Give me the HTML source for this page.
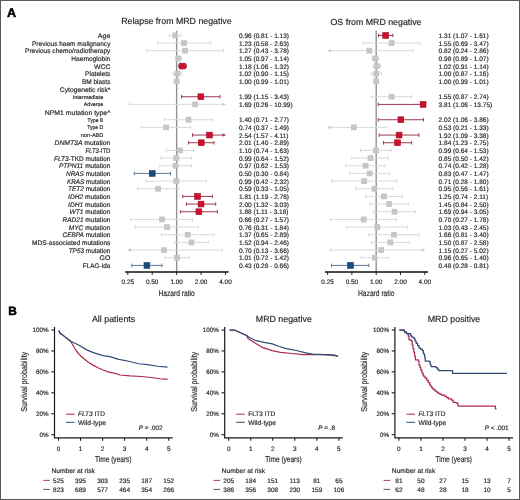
<!DOCTYPE html>
<html><head><meta charset="utf-8"><style>
html,body{margin:0;padding:0;background:#fff;}
body{width:520px;height:500px;overflow:hidden;}
text{stroke:#2a2a2a;stroke-width:0.18px;}
svg{display:block;font-family:"Liberation Sans", sans-serif;will-change:transform;text-rendering:geometricPrecision;}
</style></head><body>
<svg width="520" height="500" viewBox="0 0 520 500">
<rect x="0" y="0" width="520" height="500" fill="#fff"/>
<text x="97.8" y="38.10" font-size="6.65" fill="#2a2a2a" textLength="12.60" lengthAdjust="spacingAndGlyphs">Age</text>
<text x="32.0" y="45.77" font-size="6.65" fill="#2a2a2a" textLength="78.40" lengthAdjust="spacingAndGlyphs">Previous haem malignancy</text>
<text x="25.0" y="53.43" font-size="6.65" fill="#2a2a2a" textLength="85.40" lengthAdjust="spacingAndGlyphs">Previous chemo/radiotherapy</text>
<text x="71.3" y="61.10" font-size="6.65" fill="#2a2a2a" textLength="39.10" lengthAdjust="spacingAndGlyphs">Haemoglobin</text>
<text x="94.0" y="68.77" font-size="6.65" fill="#2a2a2a" textLength="16.40" lengthAdjust="spacingAndGlyphs">WCC</text>
<text x="85.1" y="76.44" font-size="6.65" fill="#2a2a2a" textLength="25.30" lengthAdjust="spacingAndGlyphs">Platelets</text>
<text x="81.9" y="84.10" font-size="6.65" fill="#2a2a2a" textLength="28.50" lengthAdjust="spacingAndGlyphs">BM blasts</text>
<text x="59.8" y="92.17" font-size="6.65" fill="#2a2a2a" textLength="50.60" lengthAdjust="spacingAndGlyphs">Cytogenetic risk*</text>
<text x="72.7" y="98.64" font-size="5.4" fill="#2a2a2a" textLength="30.50" lengthAdjust="spacingAndGlyphs">Intermediate</text>
<text x="83.7" y="106.30" font-size="5.4" fill="#2a2a2a" textLength="19.50" lengthAdjust="spacingAndGlyphs">Adverse</text>
<text x="44.8" y="115.17" font-size="6.65" fill="#2a2a2a" textLength="65.60" lengthAdjust="spacingAndGlyphs">NPM1 mutation type^</text>
<text x="87.6" y="121.64" font-size="5.4" fill="#2a2a2a" textLength="15.60" lengthAdjust="spacingAndGlyphs">Type B</text>
<text x="87.2" y="129.30" font-size="5.4" fill="#2a2a2a" textLength="16.00" lengthAdjust="spacingAndGlyphs">Type D</text>
<text x="81.0" y="136.97" font-size="5.4" fill="#2a2a2a" textLength="22.20" lengthAdjust="spacingAndGlyphs">non-ABD</text>
<text x="54.5" y="145.44" font-size="6.65" fill="#2a2a2a" textLength="55.90" lengthAdjust="spacingAndGlyphs"><tspan font-style="italic">DNMT3A</tspan> mutation</text>
<text x="85.5" y="153.10" font-size="6.65" fill="#2a2a2a" textLength="24.90" lengthAdjust="spacingAndGlyphs"><tspan font-style="italic">FLT3</tspan>-ITD</text>
<text x="54.0" y="160.77" font-size="6.65" fill="#2a2a2a" textLength="56.40" lengthAdjust="spacingAndGlyphs"><tspan font-style="italic">FLT3</tspan>-TKD mutation</text>
<text x="58.9" y="168.44" font-size="6.65" fill="#2a2a2a" textLength="51.50" lengthAdjust="spacingAndGlyphs"><tspan font-style="italic">PTPN11</tspan> mutation</text>
<text x="66.0" y="176.11" font-size="6.65" fill="#2a2a2a" textLength="44.40" lengthAdjust="spacingAndGlyphs"><tspan font-style="italic">NRAS</tspan> mutation</text>
<text x="66.9" y="183.77" font-size="6.65" fill="#2a2a2a" textLength="43.50" lengthAdjust="spacingAndGlyphs"><tspan font-style="italic">KRAS</tspan> mutation</text>
<text x="68.1" y="191.44" font-size="6.65" fill="#2a2a2a" textLength="42.30" lengthAdjust="spacingAndGlyphs"><tspan font-style="italic">TET2</tspan> mutation</text>
<text x="68.1" y="199.11" font-size="6.65" fill="#2a2a2a" textLength="42.30" lengthAdjust="spacingAndGlyphs"><tspan font-style="italic">IDH2</tspan> mutation</text>
<text x="68.1" y="206.77" font-size="6.65" fill="#2a2a2a" textLength="42.30" lengthAdjust="spacingAndGlyphs"><tspan font-style="italic">IDH1</tspan> mutation</text>
<text x="69.5" y="214.44" font-size="6.65" fill="#2a2a2a" textLength="40.90" lengthAdjust="spacingAndGlyphs"><tspan font-style="italic">WT1</tspan> mutation</text>
<text x="62.5" y="222.11" font-size="6.65" fill="#2a2a2a" textLength="47.90" lengthAdjust="spacingAndGlyphs"><tspan font-style="italic">RAD21</tspan> mutation</text>
<text x="68.7" y="229.77" font-size="6.65" fill="#2a2a2a" textLength="41.70" lengthAdjust="spacingAndGlyphs"><tspan font-style="italic">MYC</tspan> mutation</text>
<text x="62.5" y="237.44" font-size="6.65" fill="#2a2a2a" textLength="47.90" lengthAdjust="spacingAndGlyphs"><tspan font-style="italic">CEBPA</tspan> mutation</text>
<text x="32.0" y="245.11" font-size="6.65" fill="#2a2a2a" textLength="78.40" lengthAdjust="spacingAndGlyphs">MDS-associated mutations</text>
<text x="68.7" y="252.78" font-size="6.65" fill="#2a2a2a" textLength="41.70" lengthAdjust="spacingAndGlyphs"><tspan font-style="italic">TP53</tspan> mutation</text>
<text x="99.6" y="260.44" font-size="6.65" fill="#2a2a2a" textLength="10.80" lengthAdjust="spacingAndGlyphs">GO</text>
<text x="82.8" y="268.11" font-size="6.65" fill="#2a2a2a" textLength="27.60" lengthAdjust="spacingAndGlyphs">FLAG-Ida</text>
<line x1="176.64" y1="30.80" x2="176.64" y2="272" stroke="#929292" stroke-width="1.4"/>
<line x1="169.22" y1="35.40" x2="180.95" y2="35.40" stroke="#d9d9d9" stroke-width="1"/>
<line x1="169.22" y1="33.60" x2="169.22" y2="37.20" stroke="#d9d9d9" stroke-width="1"/>
<line x1="180.95" y1="33.60" x2="180.95" y2="37.20" stroke="#d9d9d9" stroke-width="1"/>
<rect x="172.30" y="32.50" width="5.8" height="5.8" fill="#c5c7c7"/>
<text x="239.0" y="38.00" font-size="6.52" fill="#2a2a2a">0.96 (0.81 - 1.13)</text>
<line x1="157.45" y1="43.07" x2="210.71" y2="43.07" stroke="#d9d9d9" stroke-width="1"/>
<line x1="157.45" y1="41.27" x2="157.45" y2="44.87" stroke="#d9d9d9" stroke-width="1"/>
<line x1="210.71" y1="41.27" x2="210.71" y2="44.87" stroke="#d9d9d9" stroke-width="1"/>
<rect x="181.03" y="40.17" width="5.8" height="5.8" fill="#c5c7c7"/>
<text x="239.0" y="45.67" font-size="6.52" fill="#2a2a2a">1.23 (0.58 - 2.63)</text>
<line x1="146.91" y1="50.73" x2="223.49" y2="50.73" stroke="#d9d9d9" stroke-width="1"/>
<line x1="146.91" y1="48.93" x2="146.91" y2="52.53" stroke="#d9d9d9" stroke-width="1"/>
<line x1="223.49" y1="48.93" x2="223.49" y2="52.53" stroke="#d9d9d9" stroke-width="1"/>
<rect x="182.16" y="47.83" width="5.8" height="5.8" fill="#c5c7c7"/>
<text x="239.0" y="53.33" font-size="6.52" fill="#2a2a2a">1.27 (0.43 - 3.78)</text>
<line x1="175.57" y1="58.40" x2="181.26" y2="58.40" stroke="#d9d9d9" stroke-width="1"/>
<line x1="175.57" y1="56.60" x2="175.57" y2="60.20" stroke="#d9d9d9" stroke-width="1"/>
<line x1="181.26" y1="56.60" x2="181.26" y2="60.20" stroke="#d9d9d9" stroke-width="1"/>
<rect x="175.46" y="55.50" width="5.8" height="5.8" fill="#c5c7c7"/>
<text x="239.0" y="61.00" font-size="6.52" fill="#2a2a2a">1.05 (0.97 - 1.14)</text>
<line x1="178.69" y1="66.07" x2="186.42" y2="66.07" stroke="#9c3a52" stroke-width="1"/>
<line x1="178.69" y1="64.27" x2="178.69" y2="67.87" stroke="#9c3a52" stroke-width="1"/>
<line x1="186.42" y1="64.27" x2="186.42" y2="67.87" stroke="#9c3a52" stroke-width="1"/>
<rect x="179.57" y="63.17" width="5.8" height="5.8" fill="#cc0f2f" stroke="#a00a25" stroke-width="0.6"/>
<text x="239.0" y="68.67" font-size="6.52" fill="#2a2a2a">1.18 (1.06 - 1.32)</text>
<line x1="172.93" y1="73.73" x2="181.56" y2="73.73" stroke="#d9d9d9" stroke-width="1"/>
<line x1="172.93" y1="71.94" x2="172.93" y2="75.53" stroke="#d9d9d9" stroke-width="1"/>
<line x1="181.56" y1="71.94" x2="181.56" y2="75.53" stroke="#d9d9d9" stroke-width="1"/>
<rect x="174.44" y="70.83" width="5.8" height="5.8" fill="#c5c7c7"/>
<text x="239.0" y="76.33" font-size="6.52" fill="#2a2a2a">1.02 (0.90 - 1.15)</text>
<line x1="176.29" y1="81.40" x2="176.99" y2="81.40" stroke="#d9d9d9" stroke-width="1"/>
<line x1="176.29" y1="79.60" x2="176.29" y2="83.20" stroke="#d9d9d9" stroke-width="1"/>
<line x1="176.99" y1="79.60" x2="176.99" y2="83.20" stroke="#d9d9d9" stroke-width="1"/>
<rect x="173.74" y="78.50" width="5.8" height="5.8" fill="#c5c7c7"/>
<text x="239.0" y="84.00" font-size="6.52" fill="#2a2a2a">1.00 (0.99 - 1.01)</text>
<line x1="181.56" y1="96.74" x2="220.06" y2="96.74" stroke="#9c3a52" stroke-width="1"/>
<line x1="181.56" y1="94.94" x2="181.56" y2="98.54" stroke="#9c3a52" stroke-width="1"/>
<line x1="220.06" y1="94.94" x2="220.06" y2="98.54" stroke="#9c3a52" stroke-width="1"/>
<rect x="197.98" y="93.84" width="5.8" height="5.8" fill="#cc0f2f" stroke="#a00a25" stroke-width="0.6"/>
<text x="239.0" y="99.34" font-size="6.52" fill="#2a2a2a">1.99 (1.15 - 3.43)</text>
<line x1="129.18" y1="104.40" x2="225.48" y2="104.40" stroke="#d9d9d9" stroke-width="1"/>
<line x1="129.18" y1="102.60" x2="129.18" y2="106.20" stroke="#d9d9d9" stroke-width="1"/>
<path d="M225.48,104.40 l-3,-1.8 v3.6 z" fill="#c5c7c7"/>
<rect x="192.23" y="101.50" width="5.8" height="5.8" fill="#c5c7c7"/>
<text x="239.0" y="107.00" font-size="6.52" fill="#2a2a2a">1.69 (0.26 - 10.99)</text>
<line x1="164.57" y1="119.74" x2="212.53" y2="119.74" stroke="#d9d9d9" stroke-width="1"/>
<line x1="164.57" y1="117.94" x2="164.57" y2="121.54" stroke="#d9d9d9" stroke-width="1"/>
<line x1="212.53" y1="117.94" x2="212.53" y2="121.54" stroke="#d9d9d9" stroke-width="1"/>
<rect x="185.59" y="116.84" width="5.8" height="5.8" fill="#c5c7c7"/>
<text x="239.0" y="122.34" font-size="6.52" fill="#2a2a2a">1.40 (0.71 - 2.77)</text>
<line x1="141.61" y1="127.40" x2="190.69" y2="127.40" stroke="#d9d9d9" stroke-width="1"/>
<line x1="141.61" y1="125.60" x2="141.61" y2="129.20" stroke="#d9d9d9" stroke-width="1"/>
<line x1="190.69" y1="125.60" x2="190.69" y2="129.20" stroke="#d9d9d9" stroke-width="1"/>
<rect x="163.13" y="124.50" width="5.8" height="5.8" fill="#c5c7c7"/>
<text x="239.0" y="130.00" font-size="6.52" fill="#2a2a2a">0.74 (0.37 - 1.49)</text>
<line x1="192.53" y1="135.07" x2="225.48" y2="135.07" stroke="#9c3a52" stroke-width="1"/>
<line x1="192.53" y1="133.27" x2="192.53" y2="136.87" stroke="#9c3a52" stroke-width="1"/>
<path d="M225.48,135.07 l-3,-1.8 v3.6 z" fill="#9c3a52"/>
<rect x="206.58" y="132.17" width="5.8" height="5.8" fill="#cc0f2f" stroke="#a00a25" stroke-width="0.6"/>
<text x="239.0" y="137.67" font-size="6.52" fill="#2a2a2a">2.54 (1.57 - 4.11)</text>
<line x1="188.49" y1="142.74" x2="214.03" y2="142.74" stroke="#9c3a52" stroke-width="1"/>
<line x1="188.49" y1="140.94" x2="188.49" y2="144.54" stroke="#9c3a52" stroke-width="1"/>
<line x1="214.03" y1="140.94" x2="214.03" y2="144.54" stroke="#9c3a52" stroke-width="1"/>
<rect x="198.34" y="139.84" width="5.8" height="5.8" fill="#cc0f2f" stroke="#a00a25" stroke-width="0.6"/>
<text x="239.0" y="145.34" font-size="6.52" fill="#2a2a2a">2.01 (1.40 - 2.89)</text>
<line x1="166.03" y1="150.41" x2="193.85" y2="150.41" stroke="#d9d9d9" stroke-width="1"/>
<line x1="166.03" y1="148.60" x2="166.03" y2="152.21" stroke="#d9d9d9" stroke-width="1"/>
<line x1="193.85" y1="148.60" x2="193.85" y2="152.21" stroke="#d9d9d9" stroke-width="1"/>
<rect x="177.10" y="147.50" width="5.8" height="5.8" fill="#c5c7c7"/>
<text x="239.0" y="153.00" font-size="6.52" fill="#2a2a2a">1.10 (0.74 - 1.63)</text>
<line x1="160.92" y1="158.07" x2="191.39" y2="158.07" stroke="#d9d9d9" stroke-width="1"/>
<line x1="160.92" y1="156.27" x2="160.92" y2="159.87" stroke="#d9d9d9" stroke-width="1"/>
<line x1="191.39" y1="156.27" x2="191.39" y2="159.87" stroke="#d9d9d9" stroke-width="1"/>
<rect x="173.39" y="155.17" width="5.8" height="5.8" fill="#c5c7c7"/>
<text x="239.0" y="160.67" font-size="6.52" fill="#2a2a2a">0.99 (0.64 - 1.52)</text>
<line x1="159.80" y1="165.74" x2="191.62" y2="165.74" stroke="#d9d9d9" stroke-width="1"/>
<line x1="159.80" y1="163.94" x2="159.80" y2="167.54" stroke="#d9d9d9" stroke-width="1"/>
<line x1="191.62" y1="163.94" x2="191.62" y2="167.54" stroke="#d9d9d9" stroke-width="1"/>
<rect x="172.67" y="162.84" width="5.8" height="5.8" fill="#c5c7c7"/>
<text x="239.0" y="168.34" font-size="6.52" fill="#2a2a2a">0.97 (0.62 - 1.53)</text>
<line x1="134.22" y1="173.41" x2="170.50" y2="173.41" stroke="#5a7898" stroke-width="1"/>
<line x1="134.22" y1="171.61" x2="134.22" y2="175.21" stroke="#5a7898" stroke-width="1"/>
<line x1="170.50" y1="171.61" x2="170.50" y2="175.21" stroke="#5a7898" stroke-width="1"/>
<rect x="149.32" y="170.51" width="5.8" height="5.8" fill="#1b4a7e" stroke="#143a66" stroke-width="0.6"/>
<text x="239.0" y="176.01" font-size="6.52" fill="#2a2a2a">0.50 (0.30 - 0.84)</text>
<line x1="146.08" y1="181.07" x2="206.29" y2="181.07" stroke="#d9d9d9" stroke-width="1"/>
<line x1="146.08" y1="179.27" x2="146.08" y2="182.87" stroke="#d9d9d9" stroke-width="1"/>
<line x1="206.29" y1="179.27" x2="206.29" y2="182.87" stroke="#d9d9d9" stroke-width="1"/>
<rect x="173.39" y="178.17" width="5.8" height="5.8" fill="#c5c7c7"/>
<text x="239.0" y="183.67" font-size="6.52" fill="#2a2a2a">0.99 (0.42 - 2.32)</text>
<line x1="137.58" y1="188.74" x2="178.36" y2="188.74" stroke="#d9d9d9" stroke-width="1"/>
<line x1="137.58" y1="186.94" x2="137.58" y2="190.54" stroke="#d9d9d9" stroke-width="1"/>
<line x1="178.36" y1="186.94" x2="178.36" y2="190.54" stroke="#d9d9d9" stroke-width="1"/>
<rect x="155.15" y="185.84" width="5.8" height="5.8" fill="#c5c7c7"/>
<text x="239.0" y="191.34" font-size="6.52" fill="#2a2a2a">0.59 (0.33 - 1.05)</text>
<line x1="182.77" y1="196.41" x2="212.41" y2="196.41" stroke="#9c3a52" stroke-width="1"/>
<line x1="182.77" y1="194.61" x2="182.77" y2="198.21" stroke="#9c3a52" stroke-width="1"/>
<line x1="212.41" y1="194.61" x2="212.41" y2="198.21" stroke="#9c3a52" stroke-width="1"/>
<rect x="194.64" y="193.51" width="5.8" height="5.8" fill="#cc0f2f" stroke="#a00a25" stroke-width="0.6"/>
<text x="239.0" y="199.01" font-size="6.52" fill="#2a2a2a">1.81 (1.19 - 2.76)</text>
<line x1="186.42" y1="204.07" x2="215.70" y2="204.07" stroke="#9c3a52" stroke-width="1"/>
<line x1="186.42" y1="202.27" x2="186.42" y2="205.87" stroke="#9c3a52" stroke-width="1"/>
<line x1="215.70" y1="202.27" x2="215.70" y2="205.87" stroke="#9c3a52" stroke-width="1"/>
<rect x="198.16" y="201.17" width="5.8" height="5.8" fill="#cc0f2f" stroke="#a00a25" stroke-width="0.6"/>
<text x="239.0" y="206.67" font-size="6.52" fill="#2a2a2a">2.00 (1.32 - 3.03)</text>
<line x1="180.32" y1="211.74" x2="217.40" y2="211.74" stroke="#9c3a52" stroke-width="1"/>
<line x1="180.32" y1="209.94" x2="180.32" y2="213.54" stroke="#9c3a52" stroke-width="1"/>
<line x1="217.40" y1="209.94" x2="217.40" y2="213.54" stroke="#9c3a52" stroke-width="1"/>
<rect x="195.98" y="208.84" width="5.8" height="5.8" fill="#cc0f2f" stroke="#a00a25" stroke-width="0.6"/>
<text x="239.0" y="214.34" font-size="6.52" fill="#2a2a2a">1.88 (1.11 - 3.18)</text>
<line x1="130.51" y1="219.41" x2="192.53" y2="219.41" stroke="#d9d9d9" stroke-width="1"/>
<line x1="130.51" y1="217.61" x2="130.51" y2="221.21" stroke="#d9d9d9" stroke-width="1"/>
<line x1="192.53" y1="217.61" x2="192.53" y2="221.21" stroke="#d9d9d9" stroke-width="1"/>
<rect x="159.10" y="216.51" width="5.8" height="5.8" fill="#c5c7c7"/>
<text x="239.0" y="222.01" font-size="6.52" fill="#2a2a2a">0.66 (0.27 - 1.57)</text>
<line x1="135.38" y1="227.07" x2="198.12" y2="227.07" stroke="#d9d9d9" stroke-width="1"/>
<line x1="135.38" y1="225.27" x2="135.38" y2="228.88" stroke="#d9d9d9" stroke-width="1"/>
<line x1="198.12" y1="225.27" x2="198.12" y2="228.88" stroke="#d9d9d9" stroke-width="1"/>
<rect x="164.07" y="224.17" width="5.8" height="5.8" fill="#c5c7c7"/>
<text x="239.0" y="229.67" font-size="6.52" fill="#2a2a2a">0.76 (0.31 - 1.84)</text>
<line x1="161.46" y1="234.74" x2="214.03" y2="234.74" stroke="#d9d9d9" stroke-width="1"/>
<line x1="161.46" y1="232.94" x2="161.46" y2="236.54" stroke="#d9d9d9" stroke-width="1"/>
<line x1="214.03" y1="232.94" x2="214.03" y2="236.54" stroke="#d9d9d9" stroke-width="1"/>
<rect x="184.83" y="231.84" width="5.8" height="5.8" fill="#c5c7c7"/>
<text x="239.0" y="237.34" font-size="6.52" fill="#2a2a2a">1.37 (0.65 - 2.89)</text>
<line x1="174.46" y1="242.41" x2="208.35" y2="242.41" stroke="#d9d9d9" stroke-width="1"/>
<line x1="174.46" y1="240.61" x2="174.46" y2="244.21" stroke="#d9d9d9" stroke-width="1"/>
<line x1="208.35" y1="240.61" x2="208.35" y2="244.21" stroke="#d9d9d9" stroke-width="1"/>
<rect x="188.49" y="239.51" width="5.8" height="5.8" fill="#c5c7c7"/>
<text x="239.0" y="245.01" font-size="6.52" fill="#2a2a2a">1.52 (0.94 - 2.46)</text>
<line x1="127.80" y1="250.08" x2="222.35" y2="250.08" stroke="#d9d9d9" stroke-width="1"/>
<path d="M127.80,250.08 l3,-1.8 v3.6 z" fill="#c5c7c7"/>
<line x1="222.35" y1="248.28" x2="222.35" y2="251.88" stroke="#d9d9d9" stroke-width="1"/>
<rect x="161.17" y="247.18" width="5.8" height="5.8" fill="#c5c7c7"/>
<text x="239.0" y="252.68" font-size="6.52" fill="#2a2a2a">0.70 (0.13 - 3.66)</text>
<line x1="165.07" y1="257.74" x2="188.99" y2="257.74" stroke="#d9d9d9" stroke-width="1"/>
<line x1="165.07" y1="255.94" x2="165.07" y2="259.54" stroke="#d9d9d9" stroke-width="1"/>
<line x1="188.99" y1="255.94" x2="188.99" y2="259.54" stroke="#d9d9d9" stroke-width="1"/>
<rect x="174.09" y="254.84" width="5.8" height="5.8" fill="#c5c7c7"/>
<text x="239.0" y="260.34" font-size="6.52" fill="#2a2a2a">1.01 (0.72 - 1.42)</text>
<line x1="131.79" y1="265.41" x2="162.00" y2="265.41" stroke="#5a7898" stroke-width="1"/>
<line x1="131.79" y1="263.61" x2="131.79" y2="267.21" stroke="#5a7898" stroke-width="1"/>
<line x1="162.00" y1="263.61" x2="162.00" y2="267.21" stroke="#5a7898" stroke-width="1"/>
<rect x="144.01" y="262.51" width="5.8" height="5.8" fill="#1b4a7e" stroke="#143a66" stroke-width="0.6"/>
<text x="239.0" y="268.01" font-size="6.52" fill="#2a2a2a">0.43 (0.28 - 0.66)</text>
<line x1="125.20" y1="272" x2="228.68" y2="272" stroke="#111" stroke-width="1.3"/>
<line x1="127.80" y1="272" x2="127.80" y2="275" stroke="#111" stroke-width="0.9"/>
<text x="127.80" y="283.9" font-size="6.4" text-anchor="middle" fill="#2a2a2a">0.25</text>
<line x1="152.22" y1="272" x2="152.22" y2="275" stroke="#111" stroke-width="0.9"/>
<text x="152.22" y="283.9" font-size="6.4" text-anchor="middle" fill="#2a2a2a">0.50</text>
<line x1="176.64" y1="272" x2="176.64" y2="275" stroke="#111" stroke-width="0.9"/>
<text x="176.64" y="283.9" font-size="6.4" text-anchor="middle" fill="#2a2a2a">1.00</text>
<line x1="201.06" y1="272" x2="201.06" y2="275" stroke="#111" stroke-width="0.9"/>
<text x="201.06" y="283.9" font-size="6.4" text-anchor="middle" fill="#2a2a2a">2.00</text>
<line x1="225.48" y1="272" x2="225.48" y2="275" stroke="#111" stroke-width="0.9"/>
<text x="225.48" y="283.9" font-size="6.4" text-anchor="middle" fill="#2a2a2a">4.00</text>
<text x="176.64" y="295.8" font-size="8.2" text-anchor="middle" fill="#2a2a2a" textLength="36.3" lengthAdjust="spacingAndGlyphs">Hazard ratio</text>
<line x1="376.20" y1="30.80" x2="376.20" y2="272" stroke="#929292" stroke-width="1.4"/>
<line x1="378.57" y1="35.40" x2="392.90" y2="35.40" stroke="#9c3a52" stroke-width="1"/>
<line x1="378.57" y1="33.60" x2="378.57" y2="37.20" stroke="#9c3a52" stroke-width="1"/>
<line x1="392.90" y1="33.60" x2="392.90" y2="37.20" stroke="#9c3a52" stroke-width="1"/>
<rect x="382.77" y="32.50" width="5.8" height="5.8" fill="#cc0f2f" stroke="#a00a25" stroke-width="0.6"/>
<text x="438.6" y="38.00" font-size="6.52" fill="#2a2a2a">1.31 (1.07 - 1.61)</text>
<line x1="363.19" y1="43.07" x2="419.82" y2="43.07" stroke="#d9d9d9" stroke-width="1"/>
<line x1="363.19" y1="41.27" x2="363.19" y2="44.87" stroke="#d9d9d9" stroke-width="1"/>
<line x1="419.82" y1="41.27" x2="419.82" y2="44.87" stroke="#d9d9d9" stroke-width="1"/>
<rect x="388.66" y="40.17" width="5.8" height="5.8" fill="#c5c7c7"/>
<text x="438.6" y="45.67" font-size="6.52" fill="#2a2a2a">1.55 (0.69 - 3.47)</text>
<line x1="327.60" y1="50.73" x2="413.04" y2="50.73" stroke="#d9d9d9" stroke-width="1"/>
<path d="M327.60,50.73 l3,-1.8 v3.6 z" fill="#c5c7c7"/>
<line x1="413.04" y1="48.93" x2="413.04" y2="52.53" stroke="#d9d9d9" stroke-width="1"/>
<rect x="366.34" y="47.83" width="5.8" height="5.8" fill="#c5c7c7"/>
<text x="438.6" y="53.33" font-size="6.52" fill="#2a2a2a">0.82 (0.24 - 2.86)</text>
<line x1="372.11" y1="58.40" x2="378.57" y2="58.40" stroke="#d9d9d9" stroke-width="1"/>
<line x1="372.11" y1="56.60" x2="372.11" y2="60.20" stroke="#d9d9d9" stroke-width="1"/>
<line x1="378.57" y1="56.60" x2="378.57" y2="60.20" stroke="#d9d9d9" stroke-width="1"/>
<rect x="372.59" y="55.50" width="5.8" height="5.8" fill="#c5c7c7"/>
<text x="438.6" y="61.00" font-size="6.52" fill="#2a2a2a">0.98 (0.89 - 1.07)</text>
<line x1="372.89" y1="66.07" x2="380.79" y2="66.07" stroke="#d9d9d9" stroke-width="1"/>
<line x1="372.89" y1="64.27" x2="372.89" y2="67.87" stroke="#d9d9d9" stroke-width="1"/>
<line x1="380.79" y1="64.27" x2="380.79" y2="67.87" stroke="#d9d9d9" stroke-width="1"/>
<rect x="373.99" y="63.17" width="5.8" height="5.8" fill="#c5c7c7"/>
<text x="438.6" y="68.67" font-size="6.52" fill="#2a2a2a">1.02 (0.91 - 1.14)</text>
<line x1="371.32" y1="73.73" x2="381.40" y2="73.73" stroke="#d9d9d9" stroke-width="1"/>
<line x1="371.32" y1="71.94" x2="371.32" y2="75.53" stroke="#d9d9d9" stroke-width="1"/>
<line x1="381.40" y1="71.94" x2="381.40" y2="75.53" stroke="#d9d9d9" stroke-width="1"/>
<rect x="373.30" y="70.83" width="5.8" height="5.8" fill="#c5c7c7"/>
<text x="438.6" y="76.33" font-size="6.52" fill="#2a2a2a">1.00 (0.87 - 1.16)</text>
<line x1="375.85" y1="81.40" x2="376.55" y2="81.40" stroke="#d9d9d9" stroke-width="1"/>
<line x1="375.85" y1="79.60" x2="375.85" y2="83.20" stroke="#d9d9d9" stroke-width="1"/>
<line x1="376.55" y1="79.60" x2="376.55" y2="83.20" stroke="#d9d9d9" stroke-width="1"/>
<rect x="373.30" y="78.50" width="5.8" height="5.8" fill="#c5c7c7"/>
<text x="438.6" y="84.00" font-size="6.52" fill="#2a2a2a">1.00 (0.99 - 1.01)</text>
<line x1="371.32" y1="96.74" x2="411.54" y2="96.74" stroke="#d9d9d9" stroke-width="1"/>
<line x1="371.32" y1="94.94" x2="371.32" y2="98.54" stroke="#d9d9d9" stroke-width="1"/>
<line x1="411.54" y1="94.94" x2="411.54" y2="98.54" stroke="#d9d9d9" stroke-width="1"/>
<rect x="388.66" y="93.84" width="5.8" height="5.8" fill="#c5c7c7"/>
<text x="438.6" y="99.34" font-size="6.52" fill="#2a2a2a">1.55 (0.87 - 2.74)</text>
<line x1="378.24" y1="104.40" x2="424.80" y2="104.40" stroke="#9c3a52" stroke-width="1"/>
<line x1="378.24" y1="102.60" x2="378.24" y2="106.20" stroke="#9c3a52" stroke-width="1"/>
<path d="M424.80,104.40 l-3,-1.8 v3.6 z" fill="#9c3a52"/>
<rect x="420.19" y="101.50" width="5.8" height="5.8" fill="#cc0f2f" stroke="#a00a25" stroke-width="0.6"/>
<text x="438.6" y="107.00" font-size="6.52" fill="#2a2a2a">3.81 (1.06 - 13.75)</text>
<line x1="378.24" y1="119.74" x2="423.55" y2="119.74" stroke="#9c3a52" stroke-width="1"/>
<line x1="378.24" y1="117.94" x2="378.24" y2="121.54" stroke="#9c3a52" stroke-width="1"/>
<line x1="423.55" y1="117.94" x2="423.55" y2="121.54" stroke="#9c3a52" stroke-width="1"/>
<rect x="397.95" y="116.84" width="5.8" height="5.8" fill="#cc0f2f" stroke="#a00a25" stroke-width="0.6"/>
<text x="438.6" y="122.34" font-size="6.52" fill="#2a2a2a">2.02 (1.06 - 3.86)</text>
<line x1="327.60" y1="127.40" x2="386.20" y2="127.40" stroke="#d9d9d9" stroke-width="1"/>
<path d="M327.60,127.40 l3,-1.8 v3.6 z" fill="#c5c7c7"/>
<line x1="386.20" y1="125.60" x2="386.20" y2="129.20" stroke="#d9d9d9" stroke-width="1"/>
<rect x="351.04" y="124.50" width="5.8" height="5.8" fill="#c5c7c7"/>
<text x="438.6" y="130.00" font-size="6.52" fill="#2a2a2a">0.53 (0.21 - 1.33)</text>
<line x1="379.22" y1="135.07" x2="418.90" y2="135.07" stroke="#9c3a52" stroke-width="1"/>
<line x1="379.22" y1="133.27" x2="379.22" y2="136.87" stroke="#9c3a52" stroke-width="1"/>
<line x1="418.90" y1="133.27" x2="418.90" y2="136.87" stroke="#9c3a52" stroke-width="1"/>
<rect x="396.17" y="132.17" width="5.8" height="5.8" fill="#cc0f2f" stroke="#a00a25" stroke-width="0.6"/>
<text x="438.6" y="137.67" font-size="6.52" fill="#2a2a2a">1.92 (1.09 - 3.38)</text>
<line x1="383.46" y1="142.74" x2="411.66" y2="142.74" stroke="#9c3a52" stroke-width="1"/>
<line x1="383.46" y1="140.94" x2="383.46" y2="144.54" stroke="#9c3a52" stroke-width="1"/>
<line x1="411.66" y1="140.94" x2="411.66" y2="144.54" stroke="#9c3a52" stroke-width="1"/>
<rect x="394.68" y="139.84" width="5.8" height="5.8" fill="#cc0f2f" stroke="#a00a25" stroke-width="0.6"/>
<text x="438.6" y="145.34" font-size="6.52" fill="#2a2a2a">1.84 (1.23 - 2.75)</text>
<line x1="360.55" y1="150.41" x2="391.11" y2="150.41" stroke="#d9d9d9" stroke-width="1"/>
<line x1="360.55" y1="148.60" x2="360.55" y2="152.21" stroke="#d9d9d9" stroke-width="1"/>
<line x1="391.11" y1="148.60" x2="391.11" y2="152.21" stroke="#d9d9d9" stroke-width="1"/>
<rect x="372.95" y="147.50" width="5.8" height="5.8" fill="#c5c7c7"/>
<text x="438.6" y="153.00" font-size="6.52" fill="#2a2a2a">0.99 (0.64 - 1.53)</text>
<line x1="351.90" y1="158.07" x2="388.49" y2="158.07" stroke="#d9d9d9" stroke-width="1"/>
<line x1="351.90" y1="156.27" x2="351.90" y2="159.87" stroke="#d9d9d9" stroke-width="1"/>
<line x1="388.49" y1="156.27" x2="388.49" y2="159.87" stroke="#d9d9d9" stroke-width="1"/>
<rect x="367.60" y="155.17" width="5.8" height="5.8" fill="#c5c7c7"/>
<text x="438.6" y="160.67" font-size="6.52" fill="#2a2a2a">0.85 (0.50 - 1.42)</text>
<line x1="345.79" y1="165.74" x2="384.85" y2="165.74" stroke="#d9d9d9" stroke-width="1"/>
<line x1="345.79" y1="163.94" x2="345.79" y2="167.54" stroke="#d9d9d9" stroke-width="1"/>
<line x1="384.85" y1="163.94" x2="384.85" y2="167.54" stroke="#d9d9d9" stroke-width="1"/>
<rect x="362.74" y="162.84" width="5.8" height="5.8" fill="#c5c7c7"/>
<text x="438.6" y="168.34" font-size="6.52" fill="#2a2a2a">0.74 (0.42 - 1.28)</text>
<line x1="349.73" y1="173.41" x2="389.71" y2="173.41" stroke="#d9d9d9" stroke-width="1"/>
<line x1="349.73" y1="171.61" x2="349.73" y2="175.21" stroke="#d9d9d9" stroke-width="1"/>
<line x1="389.71" y1="171.61" x2="389.71" y2="175.21" stroke="#d9d9d9" stroke-width="1"/>
<rect x="366.77" y="170.51" width="5.8" height="5.8" fill="#c5c7c7"/>
<text x="438.6" y="176.01" font-size="6.52" fill="#2a2a2a">0.83 (0.47 - 1.47)</text>
<line x1="331.57" y1="181.07" x2="396.81" y2="181.07" stroke="#d9d9d9" stroke-width="1"/>
<line x1="331.57" y1="179.27" x2="331.57" y2="182.87" stroke="#d9d9d9" stroke-width="1"/>
<line x1="396.81" y1="179.27" x2="396.81" y2="182.87" stroke="#d9d9d9" stroke-width="1"/>
<rect x="361.29" y="178.17" width="5.8" height="5.8" fill="#c5c7c7"/>
<text x="438.6" y="183.67" font-size="6.52" fill="#2a2a2a">0.71 (0.28 - 1.80)</text>
<line x1="355.87" y1="188.74" x2="392.90" y2="188.74" stroke="#d9d9d9" stroke-width="1"/>
<line x1="355.87" y1="186.94" x2="355.87" y2="190.54" stroke="#d9d9d9" stroke-width="1"/>
<line x1="392.90" y1="186.94" x2="392.90" y2="190.54" stroke="#d9d9d9" stroke-width="1"/>
<rect x="371.50" y="185.84" width="5.8" height="5.8" fill="#c5c7c7"/>
<text x="438.6" y="191.34" font-size="6.52" fill="#2a2a2a">0.95 (0.56 - 1.61)</text>
<line x1="365.64" y1="196.41" x2="402.38" y2="196.41" stroke="#d9d9d9" stroke-width="1"/>
<line x1="365.64" y1="194.61" x2="365.64" y2="198.21" stroke="#d9d9d9" stroke-width="1"/>
<line x1="402.38" y1="194.61" x2="402.38" y2="198.21" stroke="#d9d9d9" stroke-width="1"/>
<rect x="381.12" y="193.51" width="5.8" height="5.8" fill="#c5c7c7"/>
<text x="438.6" y="199.01" font-size="6.52" fill="#2a2a2a">1.25 (0.74 - 2.11)</text>
<line x1="370.09" y1="204.07" x2="408.32" y2="204.07" stroke="#d9d9d9" stroke-width="1"/>
<line x1="370.09" y1="202.27" x2="370.09" y2="205.87" stroke="#d9d9d9" stroke-width="1"/>
<line x1="408.32" y1="202.27" x2="408.32" y2="205.87" stroke="#d9d9d9" stroke-width="1"/>
<rect x="386.33" y="201.17" width="5.8" height="5.8" fill="#c5c7c7"/>
<text x="438.6" y="206.67" font-size="6.52" fill="#2a2a2a">1.45 (0.84 - 2.50)</text>
<line x1="374.03" y1="211.74" x2="415.29" y2="211.74" stroke="#d9d9d9" stroke-width="1"/>
<line x1="374.03" y1="209.94" x2="374.03" y2="213.54" stroke="#d9d9d9" stroke-width="1"/>
<line x1="415.29" y1="209.94" x2="415.29" y2="213.54" stroke="#d9d9d9" stroke-width="1"/>
<rect x="391.70" y="208.84" width="5.8" height="5.8" fill="#c5c7c7"/>
<text x="438.6" y="214.34" font-size="6.52" fill="#2a2a2a">1.69 (0.94 - 3.05)</text>
<line x1="330.30" y1="219.41" x2="396.41" y2="219.41" stroke="#d9d9d9" stroke-width="1"/>
<line x1="330.30" y1="217.61" x2="330.30" y2="221.21" stroke="#d9d9d9" stroke-width="1"/>
<line x1="396.41" y1="217.61" x2="396.41" y2="221.21" stroke="#d9d9d9" stroke-width="1"/>
<rect x="360.80" y="216.51" width="5.8" height="5.8" fill="#c5c7c7"/>
<text x="438.6" y="222.01" font-size="6.52" fill="#2a2a2a">0.70 (0.27 - 1.78)</text>
<line x1="346.61" y1="227.07" x2="407.61" y2="227.07" stroke="#d9d9d9" stroke-width="1"/>
<line x1="346.61" y1="225.27" x2="346.61" y2="228.88" stroke="#d9d9d9" stroke-width="1"/>
<line x1="407.61" y1="225.27" x2="407.61" y2="228.88" stroke="#d9d9d9" stroke-width="1"/>
<rect x="374.34" y="224.17" width="5.8" height="5.8" fill="#c5c7c7"/>
<text x="438.6" y="229.67" font-size="6.52" fill="#2a2a2a">1.03 (0.43 - 2.45)</text>
<line x1="368.81" y1="234.74" x2="419.10" y2="234.74" stroke="#d9d9d9" stroke-width="1"/>
<line x1="368.81" y1="232.94" x2="368.81" y2="236.54" stroke="#d9d9d9" stroke-width="1"/>
<line x1="419.10" y1="232.94" x2="419.10" y2="236.54" stroke="#d9d9d9" stroke-width="1"/>
<rect x="391.07" y="231.84" width="5.8" height="5.8" fill="#c5c7c7"/>
<text x="438.6" y="237.34" font-size="6.52" fill="#2a2a2a">1.66 (0.81 - 3.40)</text>
<line x1="371.32" y1="242.41" x2="409.43" y2="242.41" stroke="#d9d9d9" stroke-width="1"/>
<line x1="371.32" y1="240.61" x2="371.32" y2="244.21" stroke="#d9d9d9" stroke-width="1"/>
<line x1="409.43" y1="240.61" x2="409.43" y2="244.21" stroke="#d9d9d9" stroke-width="1"/>
<rect x="387.51" y="239.51" width="5.8" height="5.8" fill="#c5c7c7"/>
<text x="438.6" y="245.01" font-size="6.52" fill="#2a2a2a">1.50 (0.87 - 2.58)</text>
<line x1="330.30" y1="250.08" x2="424.80" y2="250.08" stroke="#d9d9d9" stroke-width="1"/>
<line x1="330.30" y1="248.28" x2="330.30" y2="251.88" stroke="#d9d9d9" stroke-width="1"/>
<path d="M424.80,250.08 l-3,-1.8 v3.6 z" fill="#c5c7c7"/>
<rect x="378.20" y="247.18" width="5.8" height="5.8" fill="#c5c7c7"/>
<text x="438.6" y="252.68" font-size="6.52" fill="#2a2a2a">1.15 (0.27 - 5.02)</text>
<line x1="361.10" y1="257.74" x2="388.00" y2="257.74" stroke="#d9d9d9" stroke-width="1"/>
<line x1="361.10" y1="255.94" x2="361.10" y2="259.54" stroke="#d9d9d9" stroke-width="1"/>
<line x1="388.00" y1="255.94" x2="388.00" y2="259.54" stroke="#d9d9d9" stroke-width="1"/>
<rect x="371.87" y="254.84" width="5.8" height="5.8" fill="#c5c7c7"/>
<text x="438.6" y="260.34" font-size="6.52" fill="#2a2a2a">0.96 (0.65 - 1.40)</text>
<line x1="331.57" y1="265.41" x2="368.81" y2="265.41" stroke="#5a7898" stroke-width="1"/>
<line x1="331.57" y1="263.61" x2="331.57" y2="267.21" stroke="#5a7898" stroke-width="1"/>
<line x1="368.81" y1="263.61" x2="368.81" y2="267.21" stroke="#5a7898" stroke-width="1"/>
<rect x="347.57" y="262.51" width="5.8" height="5.8" fill="#1b4a7e" stroke="#143a66" stroke-width="0.6"/>
<text x="438.6" y="268.01" font-size="6.52" fill="#2a2a2a">0.48 (0.28 - 0.81)</text>
<line x1="325.00" y1="272" x2="428.00" y2="272" stroke="#111" stroke-width="1.3"/>
<line x1="327.60" y1="272" x2="327.60" y2="275" stroke="#111" stroke-width="0.9"/>
<text x="327.60" y="283.9" font-size="6.4" text-anchor="middle" fill="#2a2a2a">0.25</text>
<line x1="351.90" y1="272" x2="351.90" y2="275" stroke="#111" stroke-width="0.9"/>
<text x="351.90" y="283.9" font-size="6.4" text-anchor="middle" fill="#2a2a2a">0.50</text>
<line x1="376.20" y1="272" x2="376.20" y2="275" stroke="#111" stroke-width="0.9"/>
<text x="376.20" y="283.9" font-size="6.4" text-anchor="middle" fill="#2a2a2a">1.00</text>
<line x1="400.50" y1="272" x2="400.50" y2="275" stroke="#111" stroke-width="0.9"/>
<text x="400.50" y="283.9" font-size="6.4" text-anchor="middle" fill="#2a2a2a">2.00</text>
<line x1="424.80" y1="272" x2="424.80" y2="275" stroke="#111" stroke-width="0.9"/>
<text x="424.80" y="283.9" font-size="6.4" text-anchor="middle" fill="#2a2a2a">4.00</text>
<text x="376.20" y="295.8" font-size="8.2" text-anchor="middle" fill="#2a2a2a" textLength="36.3" lengthAdjust="spacingAndGlyphs">Hazard ratio</text>
<text x="176.4" y="24.3" font-size="8.8" text-anchor="middle" fill="#2a2a2a">Relapse from MRD negative</text>
<text x="376.0" y="24.8" font-size="8.8" text-anchor="middle" fill="#2a2a2a">OS from MRD negative</text>
<text x="7.1" y="16.8" font-size="12.6" font-weight="bold" fill="#000" style="stroke:#000;stroke-width:0.5px">A</text>
<text x="8.3" y="314.5" font-size="11.9" font-weight="bold" fill="#000" style="stroke:#000;stroke-width:0.5px">B</text>
<text x="113.60" y="321.8" font-size="8.85" text-anchor="middle" fill="#2a2a2a">All patients</text>
<path d="M54.50,327 V437.90 H172.70" fill="none" stroke="#1a1a1a" stroke-width="1.2"/>
<line x1="51.30" y1="434.70" x2="54.50" y2="434.70" stroke="#1a1a1a" stroke-width="1.1"/>
<text x="48.60" y="437.05" font-size="6.3" text-anchor="end" fill="#2a2a2a">0%</text>
<line x1="51.30" y1="413.76" x2="54.50" y2="413.76" stroke="#1a1a1a" stroke-width="1.1"/>
<text x="48.60" y="416.11" font-size="6.3" text-anchor="end" fill="#2a2a2a">20%</text>
<line x1="51.30" y1="392.82" x2="54.50" y2="392.82" stroke="#1a1a1a" stroke-width="1.1"/>
<text x="48.60" y="395.17" font-size="6.3" text-anchor="end" fill="#2a2a2a">40%</text>
<line x1="51.30" y1="371.88" x2="54.50" y2="371.88" stroke="#1a1a1a" stroke-width="1.1"/>
<text x="48.60" y="374.23" font-size="6.3" text-anchor="end" fill="#2a2a2a">60%</text>
<line x1="51.30" y1="350.94" x2="54.50" y2="350.94" stroke="#1a1a1a" stroke-width="1.1"/>
<text x="48.60" y="353.29" font-size="6.3" text-anchor="end" fill="#2a2a2a">80%</text>
<line x1="51.30" y1="330.00" x2="54.50" y2="330.00" stroke="#1a1a1a" stroke-width="1.1"/>
<text x="48.60" y="332.35" font-size="6.3" text-anchor="end" fill="#2a2a2a">100%</text>
<line x1="58.50" y1="437.90" x2="58.50" y2="440.80" stroke="#1a1a1a" stroke-width="1.1"/>
<text x="58.50" y="450.5" font-size="6.4" text-anchor="middle" fill="#2a2a2a">0</text>
<line x1="80.54" y1="437.90" x2="80.54" y2="440.80" stroke="#1a1a1a" stroke-width="1.1"/>
<text x="80.54" y="450.5" font-size="6.4" text-anchor="middle" fill="#2a2a2a">1</text>
<line x1="102.58" y1="437.90" x2="102.58" y2="440.80" stroke="#1a1a1a" stroke-width="1.1"/>
<text x="102.58" y="450.5" font-size="6.4" text-anchor="middle" fill="#2a2a2a">2</text>
<line x1="124.62" y1="437.90" x2="124.62" y2="440.80" stroke="#1a1a1a" stroke-width="1.1"/>
<text x="124.62" y="450.5" font-size="6.4" text-anchor="middle" fill="#2a2a2a">3</text>
<line x1="146.66" y1="437.90" x2="146.66" y2="440.80" stroke="#1a1a1a" stroke-width="1.1"/>
<text x="146.66" y="450.5" font-size="6.4" text-anchor="middle" fill="#2a2a2a">4</text>
<line x1="168.70" y1="437.90" x2="168.70" y2="440.80" stroke="#1a1a1a" stroke-width="1.1"/>
<text x="168.70" y="450.5" font-size="6.4" text-anchor="middle" fill="#2a2a2a">5</text>
<text x="113.30" y="462.2" font-size="8.3" text-anchor="middle" fill="#2a2a2a" textLength="36.5" lengthAdjust="spacingAndGlyphs">Time (years)</text>
<text transform="translate(26.60,381.8) rotate(-90)" x="0" y="0" font-size="8.6" text-anchor="middle" fill="#2a2a2a" textLength="60" lengthAdjust="spacingAndGlyphs">Survival probability</text>
<polyline points="58.80,330.40 60.40,333.80 62.30,334.60 65.80,337.60 70.80,341.50 72.50,344.50 74.50,348.00 76.50,351.00 78.50,353.60 81.00,356.20 84.00,358.80 88.00,362.00 93.40,365.40 98.00,367.80 103.00,370.00 109.00,372.20 115.00,373.30 120.00,375.00 130.00,375.90 141.25,376.50 151.25,377.50 160.00,378.75 167.50,379.40" fill="none" stroke="#ac2a4e" stroke-width="1.25" stroke-linejoin="round"/>
<polyline points="58.80,330.40 60.40,333.80 62.30,334.60 65.80,337.60 70.80,341.20 80.00,345.80 86.20,349.60 93.40,352.60 103.00,355.60 110.00,356.60 118.75,359.40 128.75,361.25 138.75,363.75 147.50,364.60 157.50,366.25 167.50,367.10" fill="none" stroke="#2e4c72" stroke-width="1.25" stroke-linejoin="round"/>
<line x1="66.00" y1="414.2" x2="74.60" y2="414.2" stroke="#ac2a4e" stroke-width="1"/>
<line x1="66.00" y1="422.3" x2="74.60" y2="422.3" stroke="#2e4c72" stroke-width="1"/>
<text x="78.00" y="416.1" font-size="6.5" fill="#2a2a2a"><tspan font-style="italic">FLT3</tspan> ITD</text>
<text x="78.00" y="424.6" font-size="6.7" fill="#2a2a2a">Wild-type</text>
<text x="162.70" y="429.9" font-size="6.4" text-anchor="end" fill="#2a2a2a"><tspan font-style="italic">P</tspan> = .002</text>
<text x="51.40" y="472.8" font-size="6.7" fill="#2a2a2a">Number at risk</text>
<line x1="43.20" y1="480.4" x2="49.90" y2="480.4" stroke="#ac2a4e" stroke-width="0.9"/>
<line x1="43.20" y1="489.4" x2="49.90" y2="489.4" stroke="#2e4c72" stroke-width="0.9"/>
<text x="58.50" y="482.9" font-size="6.5" text-anchor="middle" fill="#2a2a2a">525</text>
<text x="80.54" y="482.9" font-size="6.5" text-anchor="middle" fill="#2a2a2a">395</text>
<text x="102.58" y="482.9" font-size="6.5" text-anchor="middle" fill="#2a2a2a">303</text>
<text x="124.62" y="482.9" font-size="6.5" text-anchor="middle" fill="#2a2a2a">235</text>
<text x="146.66" y="482.9" font-size="6.5" text-anchor="middle" fill="#2a2a2a">187</text>
<text x="168.70" y="482.9" font-size="6.5" text-anchor="middle" fill="#2a2a2a">152</text>
<text x="58.50" y="491.9" font-size="6.5" text-anchor="middle" fill="#2a2a2a">823</text>
<text x="80.54" y="491.9" font-size="6.5" text-anchor="middle" fill="#2a2a2a">689</text>
<text x="102.58" y="491.9" font-size="6.5" text-anchor="middle" fill="#2a2a2a">577</text>
<text x="124.62" y="491.9" font-size="6.5" text-anchor="middle" fill="#2a2a2a">464</text>
<text x="146.66" y="491.9" font-size="6.5" text-anchor="middle" fill="#2a2a2a">354</text>
<text x="168.70" y="491.9" font-size="6.5" text-anchor="middle" fill="#2a2a2a">266</text>
<text x="283.80" y="321.8" font-size="8.85" text-anchor="middle" fill="#2a2a2a">MRD negative</text>
<path d="M224.70,327 V437.90 H342.90" fill="none" stroke="#1a1a1a" stroke-width="1.2"/>
<line x1="221.50" y1="434.70" x2="224.70" y2="434.70" stroke="#1a1a1a" stroke-width="1.1"/>
<text x="218.80" y="437.05" font-size="6.3" text-anchor="end" fill="#2a2a2a">0%</text>
<line x1="221.50" y1="413.76" x2="224.70" y2="413.76" stroke="#1a1a1a" stroke-width="1.1"/>
<text x="218.80" y="416.11" font-size="6.3" text-anchor="end" fill="#2a2a2a">20%</text>
<line x1="221.50" y1="392.82" x2="224.70" y2="392.82" stroke="#1a1a1a" stroke-width="1.1"/>
<text x="218.80" y="395.17" font-size="6.3" text-anchor="end" fill="#2a2a2a">40%</text>
<line x1="221.50" y1="371.88" x2="224.70" y2="371.88" stroke="#1a1a1a" stroke-width="1.1"/>
<text x="218.80" y="374.23" font-size="6.3" text-anchor="end" fill="#2a2a2a">60%</text>
<line x1="221.50" y1="350.94" x2="224.70" y2="350.94" stroke="#1a1a1a" stroke-width="1.1"/>
<text x="218.80" y="353.29" font-size="6.3" text-anchor="end" fill="#2a2a2a">80%</text>
<line x1="221.50" y1="330.00" x2="224.70" y2="330.00" stroke="#1a1a1a" stroke-width="1.1"/>
<text x="218.80" y="332.35" font-size="6.3" text-anchor="end" fill="#2a2a2a">100%</text>
<line x1="228.70" y1="437.90" x2="228.70" y2="440.80" stroke="#1a1a1a" stroke-width="1.1"/>
<text x="228.70" y="450.5" font-size="6.4" text-anchor="middle" fill="#2a2a2a">0</text>
<line x1="250.74" y1="437.90" x2="250.74" y2="440.80" stroke="#1a1a1a" stroke-width="1.1"/>
<text x="250.74" y="450.5" font-size="6.4" text-anchor="middle" fill="#2a2a2a">1</text>
<line x1="272.78" y1="437.90" x2="272.78" y2="440.80" stroke="#1a1a1a" stroke-width="1.1"/>
<text x="272.78" y="450.5" font-size="6.4" text-anchor="middle" fill="#2a2a2a">2</text>
<line x1="294.82" y1="437.90" x2="294.82" y2="440.80" stroke="#1a1a1a" stroke-width="1.1"/>
<text x="294.82" y="450.5" font-size="6.4" text-anchor="middle" fill="#2a2a2a">3</text>
<line x1="316.86" y1="437.90" x2="316.86" y2="440.80" stroke="#1a1a1a" stroke-width="1.1"/>
<text x="316.86" y="450.5" font-size="6.4" text-anchor="middle" fill="#2a2a2a">4</text>
<line x1="338.90" y1="437.90" x2="338.90" y2="440.80" stroke="#1a1a1a" stroke-width="1.1"/>
<text x="338.90" y="450.5" font-size="6.4" text-anchor="middle" fill="#2a2a2a">5</text>
<text x="283.50" y="462.2" font-size="8.3" text-anchor="middle" fill="#2a2a2a" textLength="36.5" lengthAdjust="spacingAndGlyphs">Time (years)</text>
<text transform="translate(196.80,381.8) rotate(-90)" x="0" y="0" font-size="8.6" text-anchor="middle" fill="#2a2a2a" textLength="60" lengthAdjust="spacingAndGlyphs">Survival probability</text>
<polyline points="229.60,330.00 234.20,330.00 240.00,332.50 246.90,335.70 248.00,338.50 255.00,343.00 263.00,347.70 272.30,350.70 280.40,352.30 291.90,353.50 303.50,354.60 317.30,354.60 328.90,354.60 334.60,355.00 338.00,356.00" fill="none" stroke="#ac2a4e" stroke-width="1.25" stroke-linejoin="round"/>
<polyline points="229.60,330.00 234.20,330.00 240.00,332.50 246.90,335.70 249.20,337.30 255.00,340.30 264.20,342.40 272.30,343.80 279.20,346.50 287.30,348.80 296.50,350.50 305.80,352.80 312.70,354.20 324.20,354.60 333.50,355.30 338.10,356.50" fill="none" stroke="#2e4c72" stroke-width="1.25" stroke-linejoin="round"/>
<line x1="236.20" y1="414.2" x2="244.80" y2="414.2" stroke="#ac2a4e" stroke-width="1"/>
<line x1="236.20" y1="422.3" x2="244.80" y2="422.3" stroke="#2e4c72" stroke-width="1"/>
<text x="248.20" y="416.1" font-size="6.5" fill="#2a2a2a">FLT3 ITD</text>
<text x="248.20" y="424.6" font-size="6.7" fill="#2a2a2a">Wild-type</text>
<text x="335.20" y="429.9" font-size="6.4" text-anchor="end" fill="#2a2a2a"><tspan font-style="italic">P</tspan> = .8</text>
<text x="221.60" y="472.8" font-size="6.7" fill="#2a2a2a">Number at risk</text>
<line x1="213.40" y1="480.4" x2="220.10" y2="480.4" stroke="#ac2a4e" stroke-width="0.9"/>
<line x1="213.40" y1="489.4" x2="220.10" y2="489.4" stroke="#2e4c72" stroke-width="0.9"/>
<text x="228.70" y="482.9" font-size="6.5" text-anchor="middle" fill="#2a2a2a">205</text>
<text x="250.74" y="482.9" font-size="6.5" text-anchor="middle" fill="#2a2a2a">184</text>
<text x="272.78" y="482.9" font-size="6.5" text-anchor="middle" fill="#2a2a2a">151</text>
<text x="294.82" y="482.9" font-size="6.5" text-anchor="middle" fill="#2a2a2a">113</text>
<text x="316.86" y="482.9" font-size="6.5" text-anchor="middle" fill="#2a2a2a">81</text>
<text x="338.90" y="482.9" font-size="6.5" text-anchor="middle" fill="#2a2a2a">65</text>
<text x="228.70" y="491.9" font-size="6.5" text-anchor="middle" fill="#2a2a2a">386</text>
<text x="250.74" y="491.9" font-size="6.5" text-anchor="middle" fill="#2a2a2a">356</text>
<text x="272.78" y="491.9" font-size="6.5" text-anchor="middle" fill="#2a2a2a">308</text>
<text x="294.82" y="491.9" font-size="6.5" text-anchor="middle" fill="#2a2a2a">230</text>
<text x="316.86" y="491.9" font-size="6.5" text-anchor="middle" fill="#2a2a2a">159</text>
<text x="338.90" y="491.9" font-size="6.5" text-anchor="middle" fill="#2a2a2a">106</text>
<text x="454.00" y="321.8" font-size="8.85" text-anchor="middle" fill="#2a2a2a">MRD positive</text>
<path d="M394.90,327 V437.90 H513.10" fill="none" stroke="#1a1a1a" stroke-width="1.2"/>
<line x1="391.70" y1="434.70" x2="394.90" y2="434.70" stroke="#1a1a1a" stroke-width="1.1"/>
<text x="389.00" y="437.05" font-size="6.3" text-anchor="end" fill="#2a2a2a">0%</text>
<line x1="391.70" y1="413.76" x2="394.90" y2="413.76" stroke="#1a1a1a" stroke-width="1.1"/>
<text x="389.00" y="416.11" font-size="6.3" text-anchor="end" fill="#2a2a2a">20%</text>
<line x1="391.70" y1="392.82" x2="394.90" y2="392.82" stroke="#1a1a1a" stroke-width="1.1"/>
<text x="389.00" y="395.17" font-size="6.3" text-anchor="end" fill="#2a2a2a">40%</text>
<line x1="391.70" y1="371.88" x2="394.90" y2="371.88" stroke="#1a1a1a" stroke-width="1.1"/>
<text x="389.00" y="374.23" font-size="6.3" text-anchor="end" fill="#2a2a2a">60%</text>
<line x1="391.70" y1="350.94" x2="394.90" y2="350.94" stroke="#1a1a1a" stroke-width="1.1"/>
<text x="389.00" y="353.29" font-size="6.3" text-anchor="end" fill="#2a2a2a">80%</text>
<line x1="391.70" y1="330.00" x2="394.90" y2="330.00" stroke="#1a1a1a" stroke-width="1.1"/>
<text x="389.00" y="332.35" font-size="6.3" text-anchor="end" fill="#2a2a2a">100%</text>
<line x1="398.90" y1="437.90" x2="398.90" y2="440.80" stroke="#1a1a1a" stroke-width="1.1"/>
<text x="398.90" y="450.5" font-size="6.4" text-anchor="middle" fill="#2a2a2a">0</text>
<line x1="420.94" y1="437.90" x2="420.94" y2="440.80" stroke="#1a1a1a" stroke-width="1.1"/>
<text x="420.94" y="450.5" font-size="6.4" text-anchor="middle" fill="#2a2a2a">1</text>
<line x1="442.98" y1="437.90" x2="442.98" y2="440.80" stroke="#1a1a1a" stroke-width="1.1"/>
<text x="442.98" y="450.5" font-size="6.4" text-anchor="middle" fill="#2a2a2a">2</text>
<line x1="465.02" y1="437.90" x2="465.02" y2="440.80" stroke="#1a1a1a" stroke-width="1.1"/>
<text x="465.02" y="450.5" font-size="6.4" text-anchor="middle" fill="#2a2a2a">3</text>
<line x1="487.06" y1="437.90" x2="487.06" y2="440.80" stroke="#1a1a1a" stroke-width="1.1"/>
<text x="487.06" y="450.5" font-size="6.4" text-anchor="middle" fill="#2a2a2a">4</text>
<line x1="509.10" y1="437.90" x2="509.10" y2="440.80" stroke="#1a1a1a" stroke-width="1.1"/>
<text x="509.10" y="450.5" font-size="6.4" text-anchor="middle" fill="#2a2a2a">5</text>
<text x="453.70" y="462.2" font-size="8.3" text-anchor="middle" fill="#2a2a2a" textLength="36.5" lengthAdjust="spacingAndGlyphs">Time (years)</text>
<text transform="translate(367.00,381.8) rotate(-90)" x="0" y="0" font-size="8.6" text-anchor="middle" fill="#2a2a2a" textLength="60" lengthAdjust="spacingAndGlyphs">Survival probability</text>
<polyline points="399.40,330.20 404.50,330.20 404.50,332.00 406.50,332.00 406.50,333.40 408.20,333.40 408.20,336.20 409.00,336.20 409.00,339.80 411.40,339.80 411.40,341.00 412.20,341.00 412.20,345.00 413.00,345.00 413.00,348.50 413.80,348.50 413.80,352.20 414.60,352.20 414.60,356.00 415.40,356.00 415.40,359.80 418.40,359.80 418.40,361.00 419.00,361.00 419.00,365.20 420.00,365.20 420.00,367.50 420.80,367.50 420.80,370.00 422.00,370.00 422.00,373.00 423.20,373.00 423.20,376.00 425.00,376.00 425.00,378.00 426.80,378.00 426.80,380.20 428.30,380.20 428.30,382.60 429.80,382.60 429.80,385.00 431.00,385.00 431.00,386.80 432.20,386.80 432.20,388.60 433.70,388.60 433.70,389.80 435.20,389.80 435.20,391.00 436.70,391.00 436.70,392.20 438.20,392.20 438.20,393.40 440.00,393.40 440.00,394.30 441.80,394.30 441.80,395.20 444.80,395.20 444.80,396.40 446.60,396.40 446.60,397.60 448.40,397.60 448.40,398.80 451.40,398.80 451.40,400.00 453.20,400.00 453.20,402.40 456.20,402.40 456.20,403.00 458.00,403.00 458.00,406.10 495.40,406.10 495.40,408.90 496.50,408.90" fill="none" stroke="#ac2a4e" stroke-width="1.25" stroke-linejoin="round"/>
<polyline points="399.40,330.20 404.50,330.20 404.50,332.00 406.50,332.00 406.50,333.60 410.40,333.60 410.40,335.20 411.40,335.20 411.40,336.80 413.00,336.80 413.00,337.60 414.20,337.60 414.20,338.80 415.20,338.80 415.20,341.00 416.20,341.00 416.20,343.40 417.60,343.40 417.60,345.60 419.00,345.60 419.00,347.80 420.60,347.80 420.60,349.20 422.20,349.20 422.20,350.60 423.40,350.60 423.40,353.80 424.60,353.80 424.60,357.00 425.20,357.00 425.20,361.00 429.40,361.00 429.40,361.60 430.20,361.60 430.20,364.60 431.00,364.60 431.00,366.60 435.80,366.60 435.80,367.60 437.40,367.60 437.40,369.20 438.80,369.20 438.80,370.60 452.60,370.60 452.60,373.40 506.90,373.40" fill="none" stroke="#2e4c72" stroke-width="1.25" stroke-linejoin="round"/>
<line x1="406.40" y1="414.2" x2="415.00" y2="414.2" stroke="#ac2a4e" stroke-width="1"/>
<line x1="406.40" y1="422.3" x2="415.00" y2="422.3" stroke="#2e4c72" stroke-width="1"/>
<text x="418.40" y="416.1" font-size="6.5" fill="#2a2a2a"><tspan font-style="italic">FLT3</tspan> ITD</text>
<text x="418.40" y="424.6" font-size="6.7" fill="#2a2a2a">Wild-type</text>
<text x="508.70" y="429.9" font-size="6.4" text-anchor="end" fill="#2a2a2a"><tspan font-style="italic">P</tspan> &lt; .001</text>
<text x="391.80" y="472.8" font-size="6.7" fill="#2a2a2a">Number at risk</text>
<line x1="383.60" y1="480.4" x2="390.30" y2="480.4" stroke="#ac2a4e" stroke-width="0.9"/>
<line x1="383.60" y1="489.4" x2="390.30" y2="489.4" stroke="#2e4c72" stroke-width="0.9"/>
<text x="398.90" y="482.9" font-size="6.5" text-anchor="middle" fill="#2a2a2a">81</text>
<text x="420.94" y="482.9" font-size="6.5" text-anchor="middle" fill="#2a2a2a">50</text>
<text x="442.98" y="482.9" font-size="6.5" text-anchor="middle" fill="#2a2a2a">27</text>
<text x="465.02" y="482.9" font-size="6.5" text-anchor="middle" fill="#2a2a2a">15</text>
<text x="487.06" y="482.9" font-size="6.5" text-anchor="middle" fill="#2a2a2a">13</text>
<text x="509.10" y="482.9" font-size="6.5" text-anchor="middle" fill="#2a2a2a">7</text>
<text x="398.90" y="491.9" font-size="6.5" text-anchor="middle" fill="#2a2a2a">62</text>
<text x="420.94" y="491.9" font-size="6.5" text-anchor="middle" fill="#2a2a2a">48</text>
<text x="442.98" y="491.9" font-size="6.5" text-anchor="middle" fill="#2a2a2a">28</text>
<text x="465.02" y="491.9" font-size="6.5" text-anchor="middle" fill="#2a2a2a">18</text>
<text x="487.06" y="491.9" font-size="6.5" text-anchor="middle" fill="#2a2a2a">10</text>
<text x="509.10" y="491.9" font-size="6.5" text-anchor="middle" fill="#2a2a2a">5</text>
<rect x="0.5" y="0.5" width="519" height="499" fill="none" stroke="#5a5a5a" stroke-width="1"/>
</svg>
</body></html>
